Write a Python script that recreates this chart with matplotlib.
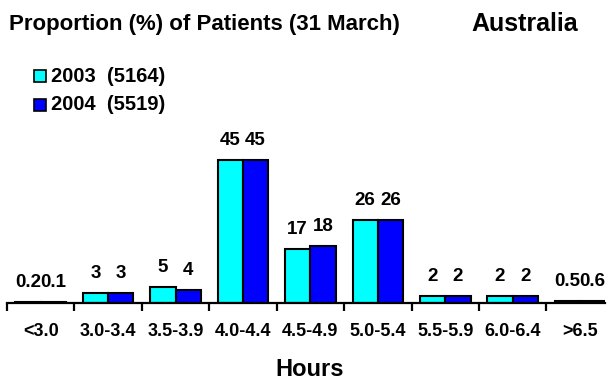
import numpy as np
import matplotlib.pyplot as plt

plt.rcParams['font.family'] = ['Liberation Sans', 'DejaVu Sans']
plt.rcParams['font.weight'] = 'bold'

# Length of stay bands and share of patients in each
hours = ['<3.0', '3.0-3.4', '3.5-3.9', '4.0-4.4', '4.5-4.9',
         '5.0-5.4', '5.5-5.9', '6.0-6.4', '>6.5']
pct_2003 = [0.2, 3, 5, 45, 17, 26, 2, 2, 0.5]
pct_2004 = [0.1, 3, 4, 45, 18, 26, 2, 2, 0.6]
legend_2003 = '2003  (5164)'
legend_2004 = '2004  (5519)'

W, H = 608, 381
fig = plt.figure(figsize=(W / 100, H / 100), dpi=100)
ax = fig.add_axes([7 / W, (H - 302.7) / H, 598 / W, 158.5 / H])

x = np.arange(len(hours))
bw = 0.375
b1 = ax.bar(x - bw / 2, pct_2003, bw, color='#00FFFF', edgecolor='black', linewidth=1.5)
b2 = ax.bar(x + bw / 2, pct_2004, bw, color='#0000FF', edgecolor='black', linewidth=1.5)

# value labels above each bar
for bars, vals in ((b1, pct_2003), (b2, pct_2004)):
    for rect, v in zip(bars, vals):
        ax.annotate(f'{v:g}', (rect.get_x() + rect.get_width() / 2, rect.get_height()),
                    xytext=(0, 8), textcoords='offset points', ha='center', va='bottom',
                    fontsize=13.5, fontweight='bold')

ax.set_xlim(-0.5, 8.37)
ax.set_ylim(0, 50)
for s in ('top', 'right', 'left'):
    ax.spines[s].set_visible(False)
ax.spines['bottom'].set_linewidth(1.6)
ax.set_yticks([])
ax.set_xticks(x)
ax.set_xticklabels(hours, fontsize=13, fontweight='bold')
ax.tick_params(axis='x', which='major', length=0, pad=14.5)
ax.set_xticks(np.arange(-0.5, 8.5, 1.0), minor=True)
ax.tick_params(axis='x', which='minor', length=6, width=1.6, direction='out')
ax.patch.set_visible(False)

fig.text(310 / W, 1 - 369 / H, 'Hours', ha='center', va='center', fontsize=17, fontweight='bold')
fig.text(9 / W, 1 - 30 / H, 'Proportion (%) of Patients (31 March)', ha='left', va='baseline',
         fontsize=16, fontweight='bold')
fig.text(578 / W, 1 - 31 / H, 'Australia', ha='right', va='baseline', fontsize=18, fontweight='bold')

# Legend entries drawn as boxed squares with text
for yc, col, txt in ((76, '#00FFFF', legend_2003), (105, '#0000FF', legend_2004)):
    fig.patches.append(plt.Rectangle((34 / W, 1 - (yc + 6) / H), 12 / W, 12 / H,
                                     transform=fig.transFigure, facecolor=col,
                                     edgecolor='black', linewidth=1.2))
    fig.text(51 / W, 1 - yc / H, txt, ha='left', va='center', fontsize=14.5, fontweight='bold')

fig.savefig('out.png', dpi=100)
